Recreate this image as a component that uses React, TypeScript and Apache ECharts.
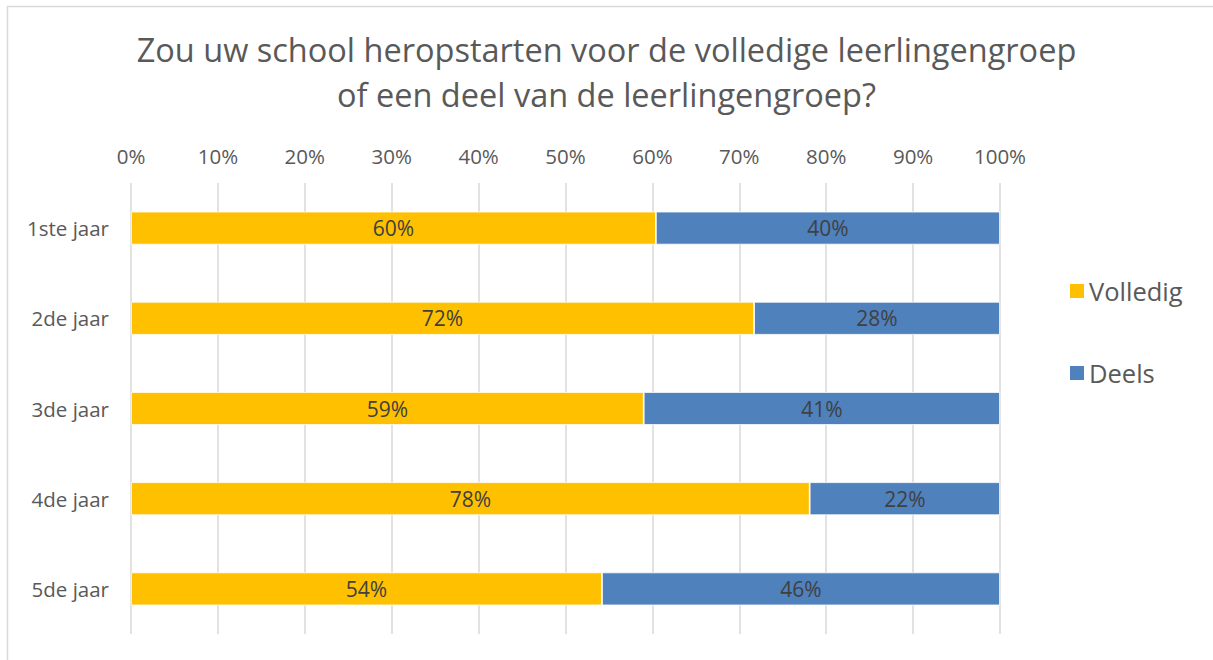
import React, { useEffect, useRef } from "react";
import * as echarts from "echarts";

const categories = ["1ste jaar", "2de jaar", "3de jaar", "4de jaar", "5de jaar"];
const volledig = [60.4, 71.7, 59.0, 78.1, 54.2];
const deels = [39.6, 28.3, 41.0, 21.9, 45.8];
const seriesNames = ["Volledig", "Deels"];
const titleLines = [
  "Zou uw school heropstarten voor de volledige leerlingengroep",
  "of een deel van de leerlingengroep?",
];

const FONT = "'Open Sans', sans-serif";

export default function App() {
  const ref = useRef<HTMLDivElement>(null);
  useEffect(() => {
    document.body.style.margin = "0";
    const chart = echarts.init(ref.current!, null, { renderer: "svg" });
    const label = {
      show: true,
      position: "inside",
      color: "#404040",
      fontSize: 21,
      fontFamily: FONT,
      formatter: (p: any) => Math.round(p.value) + "%",
    };
    chart.setOption({
      animation: false,
      backgroundColor: "#ffffff",
      textStyle: { fontFamily: FONT },
      graphic: [
        {
          type: "rect",
          shape: { x: 7.5, y: 6.5, width: 1220, height: 670 },
          style: { fill: "none", stroke: "#D9D9D9", lineWidth: 1.5 },
          silent: true,
        },
      ],
      title: {
        text: titleLines.join("\n"),
        left: "center",
        top: 22,
        textStyle: {
          fontFamily: FONT,
          fontSize: 32.5,
          fontWeight: "normal",
          color: "#595959",
          lineHeight: 45,
        },
      },
      legend: {
        orient: "vertical",
        left: 1063,
        top: 273,
        itemWidth: 16,
        itemHeight: 16,
        itemGap: 56,
        icon: "rect",
        textStyle: { fontSize: 25.5, color: "#595959", fontFamily: FONT, padding: [0, 0, 0, -1] },
        data: seriesNames,
      },
      grid: { left: 131, right: 213, top: 183, bottom: 26, containLabel: false },
      xAxis: {
        type: "value",
        position: "top",
        min: 0,
        max: 100,
        interval: 10,
        axisLine: { show: false },
        axisTick: { show: false },
        axisLabel: {
          formatter: "{value}%",
          fontSize: 20.5,
          color: "#595959",
          fontFamily: FONT,
          margin: 17,
        },
        splitLine: { show: true, lineStyle: { color: "#D9D9D9", width: 1.5 } },
      },
      yAxis: {
        type: "category",
        inverse: true,
        data: categories,
        axisLine: { show: false },
        axisTick: { show: false },
        axisLabel: { fontSize: 20.5, color: "#595959", fontFamily: FONT, margin: 22 },
        splitLine: { show: false },
      },
      series: [
        {
          name: seriesNames[0],
          type: "bar",
          stack: "total",
          barWidth: 33,
          data: volledig,
          itemStyle: { color: "#FFC000", borderColor: "#ffffff", borderWidth: 0.8 },
          label,
        },
        {
          name: seriesNames[1],
          type: "bar",
          stack: "total",
          barWidth: 33,
          data: deels,
          itemStyle: { color: "#4F81BD", borderColor: "#ffffff", borderWidth: 0.8 },
          label,
        },
      ],
    });
    return () => chart.dispose();
  }, []);
  return <div ref={ref} style={{ width: 1213, height: 660 }} />;
}
